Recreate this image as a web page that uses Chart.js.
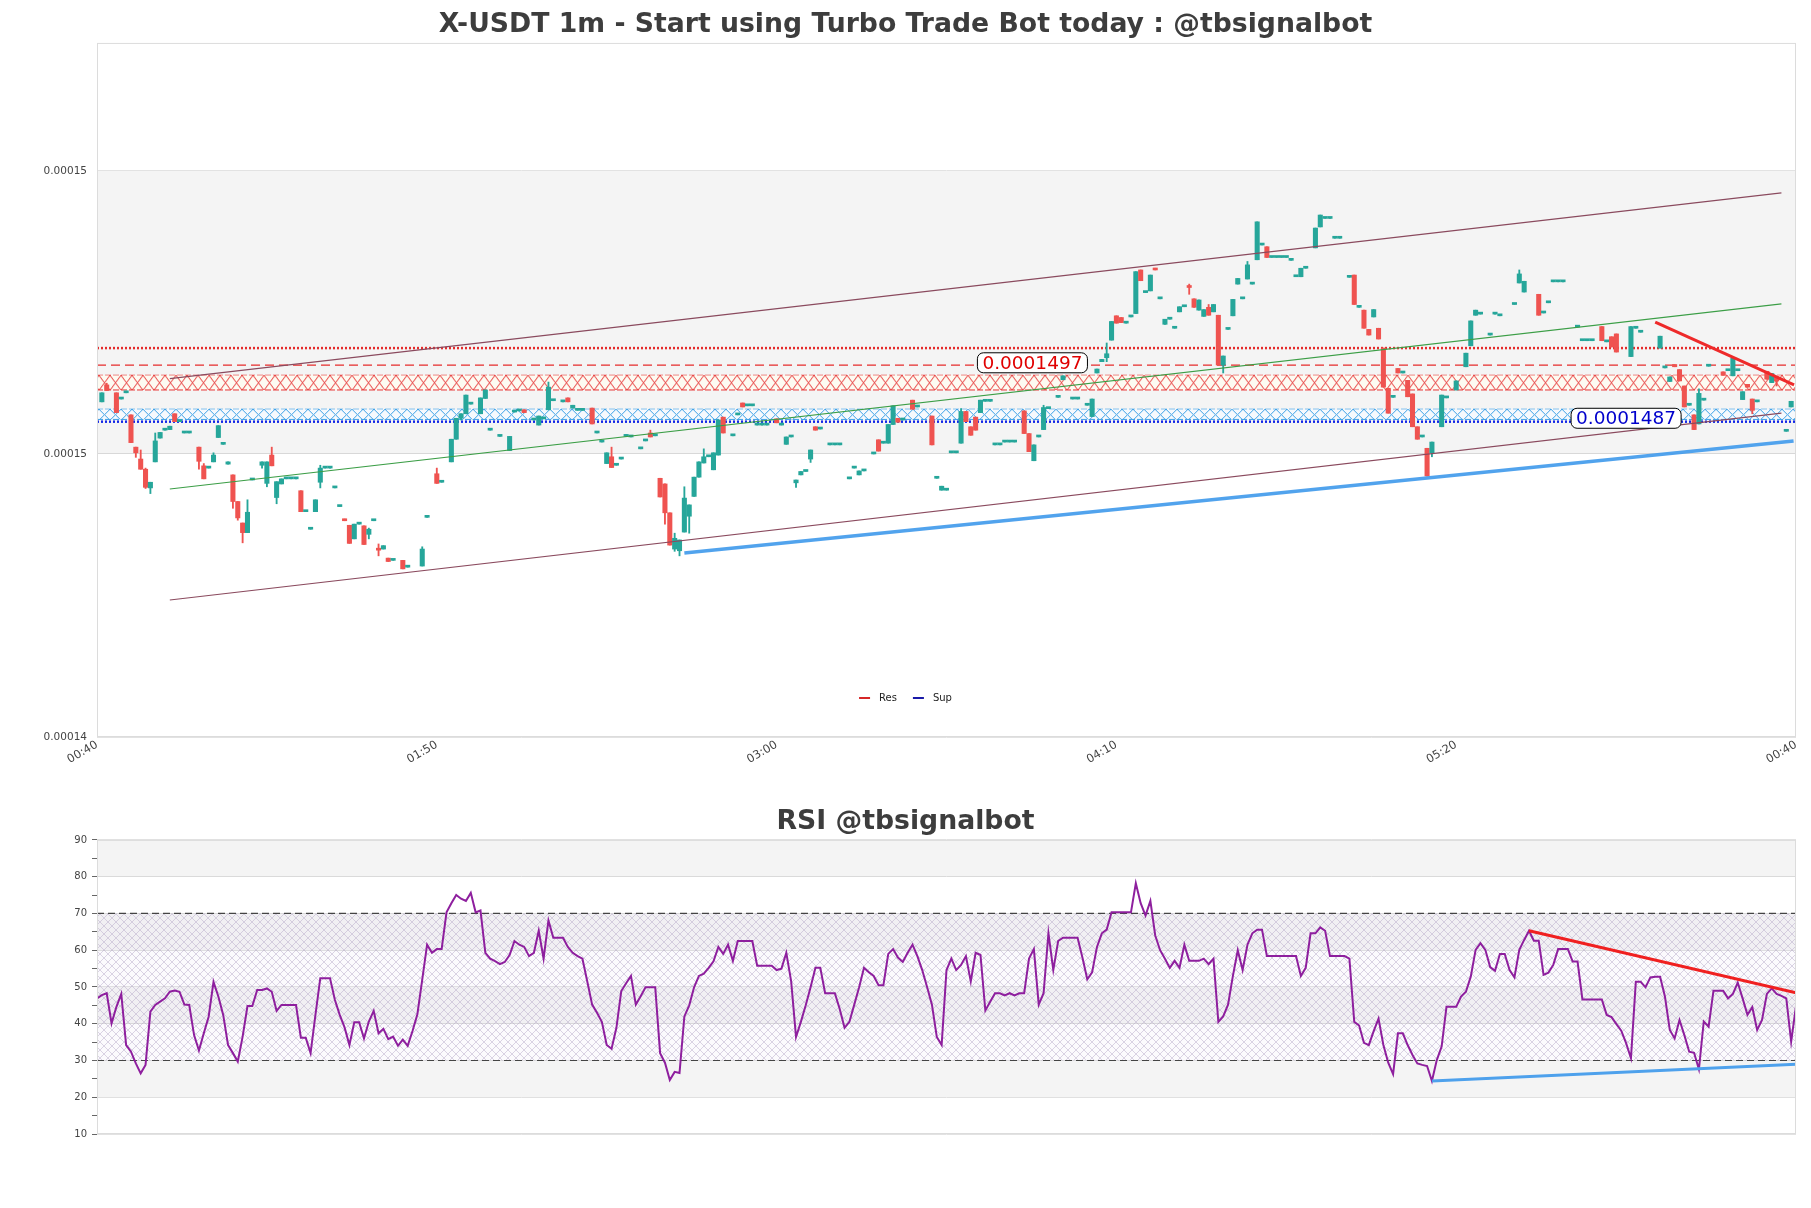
<!DOCTYPE html>
<html>
<head>
<meta charset="utf-8">
<title>X-USDT 1m</title>
<script src="https://cdn.jsdelivr.net/npm/chart.js@4.4.1/dist/chart.umd.min.js"></script>
<style>
  html, body { margin: 0; padding: 0; background: #fff; }
  body { width: 1811px; height: 1208px; position: relative; overflow: hidden; }
  canvas { position: absolute; left: 0; }
  #priceChart { top: 0; }
  #rsiChart { top: 790px; }
</style>
</head>
<body>
<canvas id="priceChart" width="1811" height="790"></canvas>
<canvas id="rsiChart" width="1811" height="418"></canvas>
<script>
// one slot per 1m candle on the x axis
const xTickValues = [0, 70, 140, 210, 280, 350];
const xTickLabels = ["00:40", "01:50", "03:00", "04:10", "05:20", "00:40"];

// prices are kept in 1e-8 USDT
const yTickValues = [14500, 15000, 15500];
const yTickLabels = ["0.00014", "0.00015", "0.00015"];

const opens = [
  null,15092,15122,null,15108,15097,15108,15069,15012,14991,
  14973,14940,14986,15028,15042,15043,15071,15057,15037,15037,
  null,15012,14979,14975,14986,15029,15017,14982,14963,14916,
  14878,14861,14954,null,14980,14948,14998,14923,14947,14956,
  14956,14956,14935,14898,14867,14898,14950,14975,14975,14940,
  14907,14884,14874,14850,14876,14873,14858,14882,14833,14832,
  14816,14812,null,14812,14800,null,null,14802,14888,null,
  14965,14950,null,14986,15026,15063,15071,15088,null,15071,
  15098,15042,null,15031,null,15006,15074,15076,15078,null,
  15060,15051,15062,15078,15094,null,15092,15099,15081,15077,
  15077,null,15081,15037,15021,14983,14995,14980,14991,15031,
  15030,null,15009,15023,15037,15032,14957,14947,14896,14832,
  14829,14862,14890,14925,14959,14984,14995,14972,14998,15065,
  null,15032,15069,15090,15085,15085,15051,15051,15051,null,
  15062,15051,15017,15030,14949,14963,14969,14991,15048,15044,
  null,15016,15016,15016,null,14956,14975,14963,14970,null,
  15000,15025,15019,15019,15052,15063,15060,null,15095,15083,
  null,null,15067,14957,14936,14936,15002,15002,15019,15075,
  15048,15065,15073,15093,15093,15016,15016,15021,15021,15021,
  null,15076,15036,14988,15030,15043,15080,null,15100,15131,
  null,15097,15097,null,15086,15066,15143,15163,15170,15201,
  15244,15241,15231,15242,15248,15325,15285,15288,15328,15274,
  15229,15238,15222,15251,15260,15296,15274,15254,15243,15259,
  15251,15245,15157,15220,15244,15300,15274,15309,15300,15343,
  15369,15366,15347,15347,15347,15347,15342,15313,15313,15328,
  null,15364,15401,15416,15416,15381,15381,null,15312,15316,
  15259,15254,15220,15242,15222,15187,15116,15100,15151,15143,
  15130,15106,15048,15030,15010,15002,null,15048,15099,null,
  15113,null,15154,15191,15245,15247,null,15210,15247,15244,
  null,null,15264,15302,15286,null,null,15282,15249,15267,
  15304,15304,15304,null,null,15224,15200,15200,15200,null,
  15225,15198,15207,15212,null,null,15172,15222,15215,null,
  null,null,15187,15152,15128,15158,15149,15120,15086,15069,
  15053,15095,15155,null,null,15145,15147,15138,15147,15096,
  15123,15097,15092,null,15146,15126,15136,null,15040,15083
];
const highs = [
  null,15108,15125,null,15108,15097,15108,15069,15012,15007,
  14975,14950,15037,15038,15042,15049,15071,15057,15037,15037,
  null,15012,14983,14975,15002,15050,15017,14986,14963,14916,
  14878,14919,14954,null,14986,14986,15012,14951,14956,14956,
  14956,14956,14935,14898,14867,14919,14980,14975,14975,14940,
  14907,14885,14874,14876,14876,14873,14869,14882,14841,14838,
  14816,14812,null,14812,14800,null,null,14836,14888,null,
  14975,14950,null,15026,15063,15071,15104,15088,null,15099,
  15113,15042,null,15031,null,15031,15074,15076,15078,null,
  15060,15067,15062,15127,15094,null,15092,15099,15086,15077,
  15077,null,15081,15037,15021,15002,15012,14980,14991,15034,
  15030,null,15009,15023,15042,15032,14957,14947,14896,14860,
  14848,14942,14910,14959,14986,15009,14995,15002,15060,15065,
  null,15032,15069,15090,15085,15085,15051,15051,15051,null,
  15062,15051,15030,15030,14954,14969,14969,15007,15048,15044,
  null,15016,15016,15016,null,14956,14975,14970,14970,null,
  15000,15025,15019,15052,15085,15063,15060,null,15095,15083,
  null,null,15067,14957,14943,14936,15002,15002,15080,15075,
  15048,15065,15095,15093,15093,15016,15016,15021,15021,15021,
  null,15076,15036,15016,15030,15086,15080,null,15100,15138,
  null,15097,15097,null,15086,15097,15150,15167,15196,15234,
  15244,15241,15231,15242,15322,15325,15285,15316,15328,15274,
  15238,15238,15222,15260,15260,15300,15274,15272,15255,15264,
  15264,15245,15173,15220,15273,15310,15274,15340,15300,15410,
  15369,15366,15347,15347,15347,15347,15342,15313,15328,15328,
  null,15399,15422,15416,15416,15381,15381,null,15312,15316,
  15259,15254,15220,15255,15222,15187,15116,15100,15151,15143,
  15130,15106,15048,15030,15010,15021,null,15104,15099,null,
  15129,null,15178,15235,15254,15247,null,15210,15247,15244,
  null,null,15264,15325,15305,null,null,15282,15249,15267,
  15304,15304,15304,null,null,15224,15200,15200,15200,null,
  15225,15198,15207,15212,null,null,15225,15222,15215,null,
  null,null,15208,15152,15136,15158,15149,15120,15086,15069,
  15115,15095,15155,null,null,15145,15147,15169,15147,15110,
  15123,15097,15092,null,15146,15142,15136,null,15040,15093
];
const lows = [
  null,15092,15112,null,15073,15097,15108,15020,14994,14973,
  14939,14930,14986,15028,15042,15043,15057,15057,15037,15037,
  null,14973,14956,14975,14986,15029,15017,14982,14904,14883,
  14843,14861,14954,null,14975,14942,14979,14912,14947,14956,
  14956,14956,14898,14898,14867,14898,14940,14975,14975,14940,
  14907,14882,14842,14850,14876,14840,14850,14882,14820,14832,
  14810,14812,null,14797,14800,null,null,14802,14888,null,
  14948,14950,null,14986,15026,15060,15071,15088,null,15071,
  15098,15042,null,15031,null,15006,15074,15076,15073,null,
  15060,15051,15062,15078,15094,null,15092,15092,15081,15077,
  15077,null,15053,15037,15021,14983,14976,14980,14991,15031,
  15030,null,15009,15023,15030,15032,14924,14876,14839,14828,
  14820,14862,14860,14925,14959,14984,14995,14972,14998,15037,
  null,15032,15069,15083,15085,15085,15051,15051,15051,null,
  15055,15051,15017,15030,14941,14963,14969,14985,15042,15044,
  null,15016,15016,15016,null,14956,14975,14963,14970,null,
  15000,15005,15019,15019,15052,15056,15060,null,15079,15083,
  null,null,15016,14957,14936,14936,15002,15002,15019,15057,
  15033,15042,15073,15093,15093,15016,15016,15021,15021,15021,
  null,15036,15004,14988,15030,15043,15080,null,15100,15131,
  null,15097,15097,null,15086,15066,15143,15163,15163,15201,
  15231,15232,15231,15242,15248,15306,15285,15288,15325,15274,
  15229,15238,15222,15251,15260,15282,15259,15254,15243,15245,
  15251,15157,15143,15220,15244,15300,15274,15309,15300,15343,
  15369,15347,15347,15347,15347,15347,15342,15313,15313,15328,
  null,15364,15401,15416,15416,15381,15381,null,15312,15264,
  15259,15222,15210,15242,15203,15118,15072,15100,15143,15143,
  15101,15048,15026,15030,14961,14995,null,15048,15099,null,
  15113,null,15154,15191,15245,15247,null,15210,15247,15244,
  null,null,15264,15302,15286,null,null,15245,15249,15267,
  15304,15304,15304,null,null,15224,15200,15200,15200,null,
  15200,15198,15189,15180,null,null,15172,15222,15215,null,
  null,null,15187,15152,15128,15154,15129,15083,15086,15043,
  15053,15095,15155,null,null,15139,15147,15138,15147,15096,
  15118,15071,15092,null,15132,15126,15120,null,15040,15083
];
const closes = [
  null,15108,15112,null,15073,15097,15108,15020,15002,14973,
  14941,14950,15023,15038,15042,15049,15057,15057,15037,15037,
  null,14987,14956,14975,14998,15050,15017,14986,14916,14887,
  14861,14897,14954,null,14986,14986,14979,14951,14956,14956,
  14956,14956,14898,14898,14867,14919,14975,14975,14975,14940,
  14907,14882,14842,14876,14876,14840,14867,14882,14830,14838,
  14810,14812,null,14797,14800,null,null,14832,14888,null,
  14948,14950,null,15026,15063,15071,15104,15088,null,15099,
  15113,15042,null,15031,null,15031,15074,15076,15073,null,
  15060,15067,15062,15118,15094,null,15092,15092,15086,15077,
  15077,null,15053,15037,15021,15002,14976,14980,14991,15034,
  15030,null,15009,15023,15030,15032,14924,14896,14839,14851,
  14848,14922,14910,14959,14986,14995,14995,15002,15060,15037,
  null,15032,15069,15083,15085,15085,15051,15051,15051,null,
  15055,15051,15030,15030,14954,14969,14969,15007,15042,15044,
  null,15016,15016,15016,null,14956,14975,14970,14970,null,
  15000,15005,15019,15052,15085,15056,15060,null,15079,15083,
  null,null,15016,14957,14943,14936,15002,15002,15075,15057,
  15033,15042,15095,15093,15093,15016,15016,15021,15021,15021,
  null,15036,15004,15016,15030,15082,15080,null,15100,15138,
  null,15097,15097,null,15086,15097,15150,15167,15177,15234,
  15231,15232,15231,15242,15322,15306,15285,15316,15325,15274,
  15238,15238,15222,15260,15260,15294,15259,15272,15255,15245,
  15264,15157,15173,15220,15273,15310,15274,15334,15300,15410,
  15369,15347,15347,15347,15347,15347,15342,15313,15328,15328,
  null,15399,15422,15416,15416,15381,15381,null,15312,15264,
  15259,15222,15210,15255,15203,15118,15072,15100,15143,15143,
  15101,15048,15026,15030,14961,15021,null,15104,15099,null,
  15129,null,15178,15235,15254,15247,null,15210,15247,15244,
  null,null,15264,15318,15305,null,null,15245,15249,15267,
  15304,15304,15304,null,null,15224,15200,15200,15200,null,
  15200,15198,15189,15180,null,null,15225,15222,15215,null,
  null,null,15208,15152,15136,15154,15129,15083,15086,15043,
  15107,15095,15155,null,null,15139,15147,15169,15147,15110,
  15118,15077,15092,null,15132,15142,15129,null,15040,15093
];

// support / resistance levels and zones
const resDotted = 15187;
const resDashed = 15157;
const resZone = [15113, 15139];
const supZone = [15061, 15079];
const supDotted = 15057;

// trend lines: [candle index, price]
const channelUpper = [[15, 15133], [347, 15461]];
const channelLower = [[15, 14742], [347, 15072]];
const channelMid = [[15, 14938], [347, 15265]];
const supTrend = [[121, 14825], [349.5, 15023]];
const resTrend = [[321, 15233], [349.6, 15122]];

const priceTags = [
  { text: "0.0001497", at: [192.7, 15161], color: "#e00000" },
  { text: "0.0001487", at: [315, 15063], color: "#0000cc" },
];
const legendItems = [
  { label: "Res", color: "#d62728" },
  { label: "Sup", color: "#1a1aa8" },
];

const rsi = [
  46.9,47.8,48.3,40.1,44.6,48.1,34.2,32.4,29.2,26.5,
  28.8,43.3,45.1,46.0,46.9,48.7,49.0,48.7,45.2,45.1,
  36.9,32.7,37.4,41.9,51.4,47.4,42.4,34.2,32.0,29.7,
  36.5,44.8,44.8,49.2,49.2,49.6,48.7,43.5,45.1,45.1,
  45.1,45.1,36.2,36.2,32.0,42.4,52.4,52.4,52.4,46.5,
  42.4,39.0,34.2,40.4,40.4,36.0,40.6,43.5,37.4,38.6,
  35.8,36.5,34.0,35.7,34.0,38.0,42.6,52.0,61.5,59.3,
  60.3,60.3,70.3,72.8,75.0,74.0,73.4,75.6,70.3,70.8,
  59.3,57.7,57.0,56.2,56.8,58.7,62.5,61.5,60.9,58.4,
  59.3,65.3,57.7,68.1,63.4,63.4,63.4,60.9,59.3,58.4,
  57.7,51.5,45.2,43.0,40.5,34.2,33.2,38.9,48.9,51.0,
  53.0,45.2,47.5,49.9,49.9,49.9,32.0,29.4,24.7,26.9,
  26.6,42.0,45.0,49.9,53.0,53.6,55.2,57.0,60.9,59.0,
  61.5,57.1,62.5,62.5,62.5,62.5,55.8,55.8,55.8,55.8,
  54.6,55.0,59.3,51.5,36.4,40.5,45.0,49.9,55.2,55.2,
  48.3,48.3,48.3,44.0,38.9,40.5,45.2,49.9,55.2,54.0,
  53.0,50.5,50.5,59.0,60.3,58.0,56.8,59.3,61.5,58.4,
  54.6,50.0,45.2,36.4,34.2,54.6,57.7,54.6,56.0,58.4,
  51.5,59.3,58.7,43.6,46.0,48.3,48.3,47.7,48.3,47.7,
  48.3,48.3,57.7,60.3,45.2,48.3,64.6,54.6,62.5,63.4,
  63.4,63.4,63.4,58.0,52.1,54.0,60.9,64.6,65.6,70.3,
  70.3,70.3,70.3,70.3,78.2,72.8,69.4,73.4,64.0,60.0,
  57.7,55.2,57.1,55.2,61.5,57.1,57.1,57.1,57.7,56.2,
  57.7,40.5,42.0,45.2,53.0,60.0,54.6,61.5,64.6,65.6,
  65.6,58.4,58.4,58.4,58.4,58.4,58.4,58.4,53.0,55.2,
  64.6,64.6,66.2,65.3,58.4,58.4,58.4,58.4,57.7,40.5,
  39.5,34.8,34.2,38.0,41.4,34.2,29.4,26.3,37.4,37.4,
  34.2,31.5,29.2,28.8,28.5,24.4,30.1,33.8,44.6,44.6,
  44.6,47.4,48.7,52.8,60.1,61.9,60.1,55.4,54.4,59.0,
  59.0,54.6,52.6,60.1,62.8,65.3,62.6,62.6,53.3,53.9,
  56.0,60.3,60.3,60.3,56.9,56.9,46.6,46.6,46.6,46.6,
  46.6,42.4,41.8,39.9,38.1,34.7,30.6,51.4,51.4,49.9,
  52.6,52.8,52.8,47.4,38.3,36.0,41.0,36.9,32.4,32.1,
  27.6,40.6,39.2,49.0,49.0,49.0,46.9,48.1,51.2,46.9,
  42.4,44.5,38.3,41.0,48.1,49.6,48.1,47.6,46.9,35.1,
  44.8
];
const rsiGrayBands = [[80, 90], [60, 70], [40, 50], [20, 30]];
const rsiHatchZone = [30, 70];
const rsiLevels = [70, 30];
const rsiResTrend = [[295, 65.3], [350, 48.4]];
const rsiSupTrend = [[275, 24.4], [350, 29.0]];

const UP = "#26a69a";
const DOWN = "#ef5350";
const FRAME = "#dcdcdc";

Chart.defaults.font.family = "'DejaVu Sans', sans-serif";
Chart.defaults.color = "#444";

const span = (v, x0 = 0, x1 = 350) => [{ x: x0, y: v }, { x: x1, y: v }];
const pts = (arr) => arr.map(([x, y]) => ({ x, y }));

function lineSet(data, opts) {
  return Object.assign(
    { type: "line", data, pointRadius: 0, borderWidth: 1, fill: false, tension: 0 },
    opts
  );
}

// crosshatch tile: one "X" per w*h cell
function hatch(color, w, h, bg) {
  const c = document.createElement("canvas");
  c.width = w;
  c.height = h;
  const g = c.getContext("2d");
  if (bg) {
    g.fillStyle = bg;
    g.fillRect(0, 0, w, h);
  }
  g.strokeStyle = color;
  g.lineWidth = 1;
  g.beginPath();
  g.moveTo(0, 0);
  g.lineTo(w, h);
  g.moveTo(w, 0);
  g.lineTo(0, h);
  g.stroke();
  return g.createPattern(c, "repeat");
}

const plotFrame = {
  id: "plotFrame",
  afterDraw(chart) {
    const { ctx, chartArea: a } = chart;
    ctx.save();
    ctx.strokeStyle = FRAME;
    ctx.lineWidth = 1;
    ctx.strokeRect(a.left + 0.5, a.top + 0.5, a.width - 1, a.height - 1);
    ctx.restore();
  },
};

const tagPlugin = {
  id: "priceTags",
  afterDatasetsDraw(chart) {
    const { ctx, scales } = chart;
    ctx.save();
    ctx.font = "18.5px 'DejaVu Sans'";
    ctx.textAlign = "center";
    ctx.textBaseline = "middle";
    priceTags.forEach((t) => {
      const x = scales.x.getPixelForValue(t.at[0]);
      const y = scales.y.getPixelForValue(t.at[1]);
      const w = ctx.measureText(t.text).width + 10;
      const h = 20;
      ctx.beginPath();
      if (ctx.roundRect) ctx.roundRect(x - w / 2, y - h / 2, w, h, 6);
      else ctx.rect(x - w / 2, y - h / 2, w, h);
      ctx.fillStyle = "#fff";
      ctx.fill();
      ctx.strokeStyle = "#000";
      ctx.lineWidth = 1;
      ctx.stroke();
      ctx.fillStyle = t.color;
      ctx.fillText(t.text, x, y + 1);
    });
    ctx.restore();
  },
};

const levelLegend = {
  id: "levelLegend",
  afterDraw(chart) {
    const { ctx, chartArea } = chart;
    ctx.save();
    ctx.font = "10px 'DejaVu Sans'";
    ctx.textBaseline = "middle";
    const y = chartArea.bottom - 39;
    const widths = legendItems.map((it) => 20 + ctx.measureText(it.label).width);
    const total = widths.reduce((a, b) => a + b, 0) + 16 * (legendItems.length - 1);
    let x = chart.width / 2 - total / 2;
    legendItems.forEach((it, k) => {
      ctx.strokeStyle = it.color;
      ctx.lineWidth = 2;
      ctx.beginPath();
      ctx.moveTo(x, y);
      ctx.lineTo(x + 11, y);
      ctx.stroke();
      ctx.fillStyle = "#222";
      ctx.fillText(it.label, x + 20, y);
      x += widths[k] + 16;
    });
    ctx.restore();
  },
};

// candles as floating bars: thin wick + body
const candleIdx = opens.map((o, i) => i).filter((i) => opens[i] !== null);
const bodies = candleIdx.map((i) => ({ x: i, y: [opens[i], closes[i]] }));
const wicks = candleIdx.map((i) => ({ x: i, y: [lows[i], highs[i]] }));
const candleColor = (ctx) => {
  const i = ctx.raw ? ctx.raw.x : 0;
  return closes[i] >= opens[i] ? UP : DOWN;
};

const redHatch = hatch("#e63232", 11, 15, "rgba(255,252,240,0.75)");
const blueHatch = hatch("#3a9fe6", 11, 11, "rgba(245,250,255,0.75)");
const rsiHatch = hatch("rgba(175,160,195,0.45)", 8, 8, "rgba(200,185,225,0.07)");

// line the zone tiles up with the top edge of each zone
const zonePatterns = {
  id: "zonePatterns",
  beforeDatasetsDraw(chart) {
    const y = chart.scales.y;
    redHatch.setTransform(new DOMMatrix().translate(0, y.getPixelForValue(resZone[1])));
    blueHatch.setTransform(new DOMMatrix().translate(0, y.getPixelForValue(supZone[1])));
  },
};

const titleFont = { size: 26.7, weight: "bold" };

// left/right padding kept equal so the titles centre on the page
new Chart(document.getElementById("priceChart"), {
  type: "bar",
  data: {
    datasets: [
      lineSet(span(yTickValues[1]), {
        borderColor: "transparent",
        backgroundColor: "rgba(0,0,0,0.045)",
        fill: { value: yTickValues[2] },
        order: 20,
      }),
      lineSet(span(resZone[0]), {
        borderColor: "#e63232",
        borderDash: [6, 2],
        backgroundColor: redHatch,
        fill: { value: resZone[1] },
        order: 15,
      }),
      lineSet(span(resZone[1]), { borderColor: "#e63232", borderDash: [6, 2], order: 15 }),
      lineSet(span(supZone[0]), {
        borderColor: "#3a9fe6",
        borderDash: [6, 2],
        backgroundColor: blueHatch,
        fill: { value: supZone[1] },
        order: 15,
      }),
      lineSet(span(supZone[1]), { borderColor: "#3a9fe6", borderDash: [6, 2], order: 15 }),
      lineSet(span(resDotted), { borderColor: "#e52b2b", borderWidth: 2.5, borderDash: [2, 2], order: 12 }),
      lineSet(span(resDashed), { borderColor: "#e52b2b", borderWidth: 1.3, borderDash: [9, 5], order: 12 }),
      lineSet(span(supDotted), { borderColor: "#1428e6", borderWidth: 2.5, borderDash: [2, 2], order: 12 }),
      {
        type: "bar",
        data: wicks,
        grouped: false,
        barThickness: 1.2,
        backgroundColor: candleColor,
        order: 8,
      },
      {
        type: "bar",
        data: bodies,
        grouped: false,
        barThickness: 4.4,
        minBarLength: 2,
        backgroundColor: candleColor,
        order: 7,
      },
      lineSet(pts(channelUpper), { borderColor: "#8a4a5e", borderWidth: 1.2, order: 4 }),
      lineSet(pts(channelLower), { borderColor: "#8a4a5e", borderWidth: 1.2, order: 4 }),
      lineSet(pts(channelMid), { borderColor: "#3c9e47", borderWidth: 1.1, order: 4 }),
      lineSet(pts(supTrend), { borderColor: "rgba(66,155,235,0.92)", borderWidth: 3.5, order: 2 }),
      lineSet(pts(resTrend), { borderColor: "#ee2a2a", borderWidth: 3, order: 2 }),
    ],
  },
  options: {
    responsive: false,
    animation: false,
    events: [],
    layout: { padding: { left: 15, right: 15, top: 0, bottom: 0 } },
    plugins: {
      legend: { display: false },
      tooltip: { enabled: false },
      title: {
        display: true,
        text: "X-USDT 1m - Start using Turbo Trade Bot today : @tbsignalbot",
        font: titleFont,
        color: "#3d3d3d",
        padding: { top: 9, bottom: 1.9 },
      },
    },
    scales: {
      x: {
        type: "linear",
        min: 0,
        max: 350,
        offset: false,
        grid: { display: false, drawTicks: false },
        border: { display: false },
        afterBuildTicks: (s) => {
          s.ticks = xTickValues.map((v) => ({ value: v }));
        },
        afterFit: (s) => {
          s.height = 53;
        },
        ticks: {
          autoSkip: false,
          minRotation: 30,
          maxRotation: 30,
          padding: 1,
          font: { size: 11.5 },
          callback: (v) => xTickLabels[xTickValues.indexOf(v)],
        },
      },
      y: {
        min: 14500,
        max: 15726,
        grid: { color: "#e2e2e2", drawTicks: false },
        border: { display: false },
        afterBuildTicks: (s) => {
          s.ticks = yTickValues.map((v) => ({ value: v }));
        },
        afterFit: (s) => {
          s.width = 82;
        },
        ticks: {
          padding: 10,
          font: { size: 10.5 },
          callback: (v) => yTickLabels[yTickValues.indexOf(v)],
        },
      },
    },
  },
  plugins: [zonePatterns, plotFrame, tagPlugin, levelLegend],
});

const rsiSets = rsiGrayBands.map(([lo, hi]) =>
  lineSet(span(lo), {
    borderColor: "transparent",
    backgroundColor: "rgba(0,0,0,0.045)",
    fill: { value: hi },
    order: 20,
  })
);
rsiSets.push(
  lineSet(span(rsiHatchZone[0]), {
    borderColor: "transparent",
    backgroundColor: rsiHatch,
    fill: { value: rsiHatchZone[1] },
    order: 18,
  })
);
rsiLevels.forEach((v) =>
  rsiSets.push(lineSet(span(v), { borderColor: "#444", borderWidth: 1.2, borderDash: [7, 4], order: 10 }))
);
rsiSets.push(
  lineSet(rsi.map((v, i) => ({ x: i, y: v })), { borderColor: "#8e1f9e", borderWidth: 2, order: 5 }),
  lineSet(pts(rsiResTrend), { borderColor: "#f02020", borderWidth: 3, order: 2 }),
  lineSet(pts(rsiSupTrend), { borderColor: "#4ea1ec", borderWidth: 3, order: 2 })
);

new Chart(document.getElementById("rsiChart"), {
  type: "line",
  data: { datasets: rsiSets },
  options: {
    responsive: false,
    animation: false,
    events: [],
    layout: { padding: { left: 15, right: 15, top: 0, bottom: 74 } },
    plugins: {
      legend: { display: false },
      tooltip: { enabled: false },
      title: {
        display: true,
        text: "RSI @tbsignalbot",
        font: titleFont,
        color: "#3d3d3d",
        padding: { top: 16, bottom: 1.9 },
      },
    },
    scales: {
      x: { type: "linear", min: 0, max: 350, display: false },
      y: {
        min: 10,
        max: 90,
        border: { display: false },
        grid: {
          color: (c) => (c.tick && c.tick.value % 10 === 0 ? "#e2e2e2" : "transparent"),
          tickColor: "#666",
          tickLength: 5,
        },
        afterFit: (s) => {
          s.width = 82;
        },
        ticks: {
          stepSize: 5,
          padding: 5,
          font: { size: 10 },
          callback: (v) => (v % 10 === 0 ? String(v) : ""),
        },
      },
    },
  },
  plugins: [plotFrame],
});
</script>
</body>
</html>
